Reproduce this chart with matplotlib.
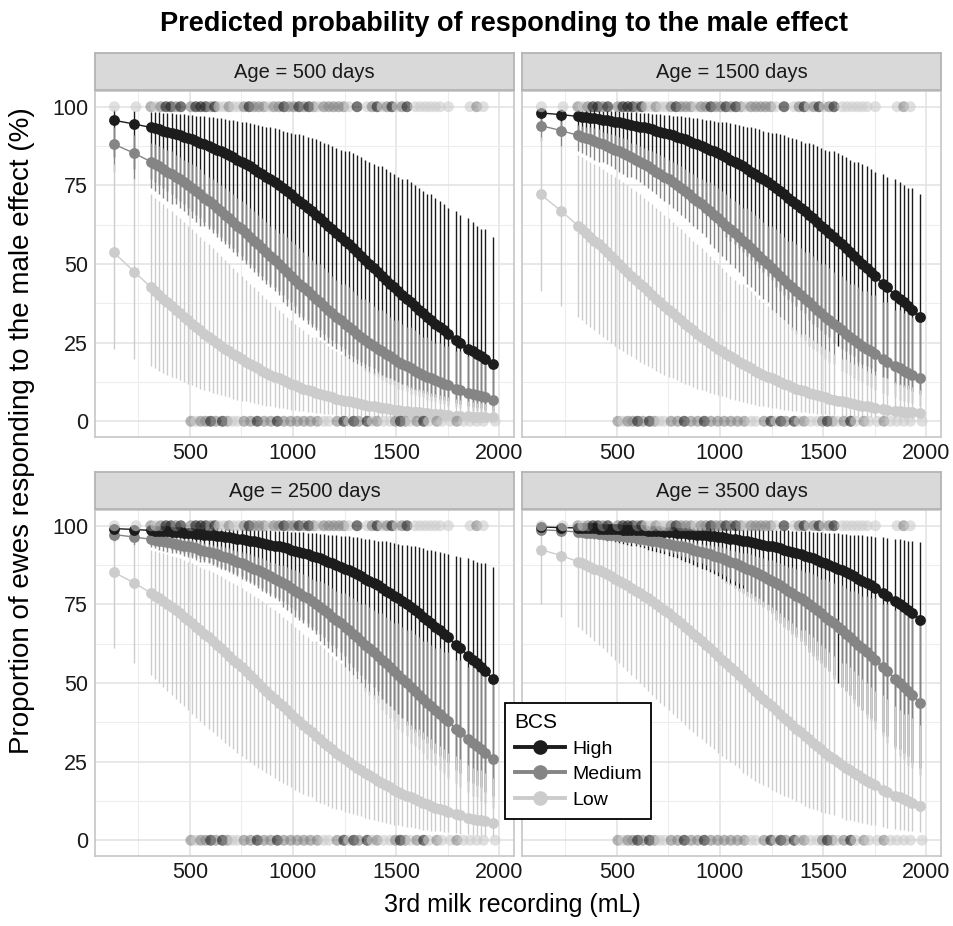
import matplotlib.pyplot as plt
import numpy as np
from matplotlib.lines import Line2D

plt.rcParams["font.family"] = ["Liberation Sans", "DejaVu Sans"]

# 3rd milk recording (mL) at which the model predictions are shown
milk = [131, 231,
        311, 331, 351, 371, 391, 411, 431, 451, 471, 491, 511, 531, 551, 571, 591, 611, 631, 651,
        671, 691, 711, 731, 751, 771, 791, 811, 831, 851, 871, 891, 911, 931, 951, 971, 991, 1011,
        1031, 1051, 1071, 1091, 1111, 1131, 1151, 1171, 1191, 1211, 1231, 1251, 1271, 1291, 1311,
        1331, 1351, 1371, 1391, 1411, 1431, 1451, 1471, 1491, 1511, 1531, 1551, 1571, 1591, 1611,
        1631, 1651, 1671, 1691, 1711, 1731, 1751,
        1791, 1811, 1851, 1871, 1891, 1911, 1931, 1971]

# predicted % responding (mean, lower, upper) -- Age = 500 days
p500_high = [95.7, 94.5, 93.4, 93.1, 92.8, 92.4, 92.1, 91.7, 91.3, 90.9, 90.5, 90.0, 89.6, 89.1, 88.6, 88.1, 87.5, 87.0, 86.4, 85.8, 85.2, 84.6, 83.9, 83.2, 82.5, 81.8, 81.0, 80.2, 79.4, 78.6, 77.7, 76.9, 76.0, 75.0, 74.1, 73.1, 72.1, 71.1, 70.1, 69.0, 67.9, 66.8, 65.7, 64.6, 63.4, 62.2, 61.1, 59.9, 58.7, 57.4, 56.2, 55.0, 53.7, 52.5, 51.2, 50.0, 48.8, 47.5, 46.3, 45.0, 43.8, 42.6, 41.3, 40.1, 38.9, 37.8, 36.6, 35.4, 34.3, 33.2, 32.1, 31.0, 29.9, 28.9, 27.9, 25.9, 25.0, 23.1, 22.3, 21.4, 20.6, 19.8, 18.2]
p500_high_lo = [83.9, 80.2, 76.9, 76.0, 75.0, 74.1, 73.1, 72.1, 71.1, 70.1, 69.0, 67.9, 66.8, 65.7, 64.6, 63.4, 62.2, 61.1, 59.9, 58.7, 57.4, 56.2, 55.0, 53.7, 52.5, 51.2, 50.0, 48.8, 47.5, 46.3, 45.0, 43.8, 42.6, 41.3, 40.1, 38.9, 37.8, 36.6, 34.3, 33.2, 32.1, 31.0, 29.9, 28.9, 27.9, 26.9, 25.9, 25.0, 24.0, 23.1, 21.4, 20.6, 19.8, 19.0, 18.2, 17.5, 16.8, 16.1, 14.8, 14.2, 13.6, 13.0, 12.5, 11.9, 10.9, 10.4, 10.0, 9.5, 9.1, 8.7, 7.9, 7.6, 7.2, 6.9, 6.6, 5.7, 5.5, 4.7, 4.5, 4.3, 4.1, 3.7, 3.4]
p500_high_hi = [99.0, 98.7, 98.4, 98.3, 98.2, 98.1, 98.0, 97.9, 97.8, 97.7, 97.6, 97.5, 97.3, 97.2, 97.1, 96.9, 96.8, 96.6, 96.4, 96.3, 96.1, 95.9, 95.7, 95.5, 95.3, 95.0, 94.8, 94.5, 94.3, 94.0, 93.7, 93.4, 93.1, 92.8, 92.4, 92.1, 91.7, 91.3, 91.3, 90.9, 90.5, 90.0, 89.6, 89.1, 88.6, 88.1, 87.5, 87.0, 86.4, 85.8, 85.8, 85.2, 84.6, 83.9, 83.2, 82.5, 81.8, 81.0, 81.0, 80.2, 79.4, 78.6, 77.7, 76.9, 76.9, 76.0, 75.0, 74.1, 73.1, 72.1, 72.1, 71.1, 70.1, 69.0, 67.9, 66.8, 65.7, 64.6, 63.4, 62.2, 61.1, 61.1, 58.7]
p500_medium = [88.1, 85.2, 82.5, 81.8, 81.0, 80.2, 79.4, 78.6, 77.7, 76.9, 76.0, 75.0, 74.1, 73.1, 72.1, 71.1, 70.1, 69.0, 67.9, 66.8, 65.7, 64.6, 63.4, 62.2, 61.1, 59.9, 58.7, 57.4, 56.2, 55.0, 53.7, 52.5, 51.2, 50.0, 48.8, 47.5, 46.3, 45.0, 43.8, 42.6, 41.3, 40.1, 38.9, 37.8, 36.6, 35.4, 34.3, 33.2, 32.1, 31.0, 29.9, 28.9, 27.9, 26.9, 25.9, 25.0, 24.0, 23.1, 22.3, 21.4, 20.6, 19.8, 19.0, 18.2, 17.5, 16.8, 16.1, 15.4, 14.8, 14.2, 13.6, 13.0, 12.5, 11.9, 11.4, 10.4, 10.0, 9.1, 8.7, 8.3, 7.9, 7.6, 6.9]
p500_medium_lo = [79.4, 76.9, 74.1, 73.1, 72.1, 71.1, 70.1, 69.0, 69.0, 67.9, 66.8, 65.7, 64.6, 63.4, 62.2, 62.2, 61.1, 59.9, 58.7, 57.4, 56.2, 55.0, 53.7, 52.5, 51.2, 50.0, 48.8, 47.5, 46.3, 45.0, 43.8, 42.6, 41.3, 40.1, 37.8, 36.6, 35.4, 34.3, 33.2, 32.1, 31.0, 29.9, 28.9, 26.9, 25.9, 25.0, 24.0, 23.1, 22.3, 20.6, 19.8, 19.0, 18.2, 17.5, 16.1, 15.4, 14.8, 14.2, 13.0, 12.5, 11.9, 11.4, 10.4, 10.0, 9.5, 8.7, 8.3, 7.9, 7.6, 6.9, 6.6, 6.3, 5.7, 5.5, 5.0, 4.5, 4.1, 3.7, 3.4, 3.2, 2.9, 2.8, 2.4]
p500_medium_hi = [93.4, 90.9, 88.6, 88.1, 87.5, 87.0, 86.4, 85.8, 84.6, 83.9, 83.2, 82.5, 81.8, 81.0, 80.2, 78.6, 77.7, 76.9, 76.0, 75.0, 74.1, 73.1, 72.1, 71.1, 70.1, 69.0, 67.9, 66.8, 65.7, 64.6, 63.4, 62.2, 61.1, 59.9, 59.9, 58.7, 57.4, 56.2, 55.0, 53.7, 52.5, 51.2, 50.0, 50.0, 48.8, 47.5, 46.3, 45.0, 43.8, 43.8, 42.6, 41.3, 40.1, 38.9, 38.9, 37.8, 36.6, 35.4, 35.4, 34.3, 33.2, 32.1, 32.1, 31.0, 29.9, 29.9, 28.9, 27.9, 26.9, 26.9, 25.9, 25.0, 25.0, 24.0, 24.0, 22.3, 22.3, 20.6, 20.6, 19.8, 19.8, 19.0, 18.2]
p500_low = [53.7, 47.5, 42.6, 41.3, 40.1, 38.9, 37.8, 36.6, 35.4, 34.3, 33.2, 32.1, 31.0, 29.9, 28.9, 27.9, 26.9, 25.9, 25.0, 24.0, 23.1, 22.3, 21.4, 20.6, 19.8, 19.0, 18.2, 17.5, 16.8, 16.1, 15.4, 14.8, 14.2, 13.6, 13.0, 12.5, 11.9, 11.4, 10.9, 10.4, 10.0, 9.5, 9.1, 8.7, 8.3, 7.9, 7.6, 7.2, 6.9, 6.6, 6.3, 6.0, 5.7, 5.5, 5.2, 5.0, 4.7, 4.5, 4.3, 4.1, 3.9, 3.7, 3.6, 3.4, 3.2, 3.1, 2.9, 2.8, 2.7, 2.5, 2.4, 2.3, 2.2, 2.1, 2.0, 1.8, 1.7, 1.6, 1.5, 1.4, 1.3, 1.3, 1.2]
p500_low_lo = [23.1, 19.8, 17.5, 16.8, 16.1, 15.4, 14.8, 14.2, 13.6, 13.0, 12.5, 11.9, 11.4, 10.9, 10.4, 10.0, 9.5, 9.1, 8.7, 8.3, 7.9, 7.6, 7.2, 6.9, 6.6, 6.3, 6.0, 5.7, 5.5, 5.2, 5.0, 4.7, 4.5, 4.3, 4.1, 3.9, 3.7, 3.6, 3.4, 3.2, 3.1, 2.9, 2.7, 2.5, 2.4, 2.3, 2.2, 2.1, 2.0, 1.9, 1.8, 1.7, 1.6, 1.6, 1.5, 1.4, 1.3, 1.2, 1.2, 1.1, 1.0, 1.0, 0.9, 0.9, 0.9, 0.8, 0.8, 0.7, 0.7, 0.6, 0.6, 0.6, 0.6, 0.5, 0.5, 0.4, 0.4, 0.4, 0.4, 0.3, 0.3, 0.3, 0.3]
p500_low_hi = [81.8, 76.9, 72.1, 71.1, 70.1, 69.0, 67.9, 66.8, 65.7, 64.6, 63.4, 62.2, 61.1, 59.9, 58.7, 57.4, 56.2, 55.0, 53.7, 52.5, 51.2, 50.0, 48.8, 47.5, 46.3, 45.0, 43.8, 42.6, 41.3, 40.1, 38.9, 37.8, 36.6, 35.4, 34.3, 33.2, 32.1, 31.0, 29.9, 28.9, 27.9, 26.9, 26.9, 25.9, 25.0, 24.0, 23.1, 22.3, 21.4, 20.6, 19.8, 19.0, 18.2, 17.5, 16.8, 16.1, 15.4, 15.4, 14.8, 14.2, 13.6, 13.0, 12.5, 11.9, 11.4, 10.9, 10.4, 10.4, 10.0, 9.5, 9.1, 8.7, 8.3, 7.9, 7.6, 7.2, 6.9, 6.3, 6.0, 5.7, 5.7, 5.5, 5.0]

# Age = 1500 days
p1500_high = [98.0, 97.5, 96.9, 96.8, 96.6, 96.4, 96.3, 96.1, 95.9, 95.7, 95.5, 95.3, 95.0, 94.8, 94.5, 94.3, 94.0, 93.7, 93.4, 93.1, 92.8, 92.4, 92.1, 91.7, 91.3, 90.9, 90.5, 90.0, 89.6, 89.1, 88.6, 88.1, 87.5, 87.0, 86.4, 85.8, 85.2, 84.6, 83.9, 83.2, 82.5, 81.8, 81.0, 80.2, 79.4, 78.6, 77.7, 76.9, 76.0, 75.0, 74.1, 73.1, 72.1, 71.1, 70.1, 69.0, 67.9, 66.8, 65.7, 64.6, 63.4, 62.2, 61.1, 59.9, 58.7, 57.4, 56.2, 55.0, 53.7, 52.5, 51.2, 50.0, 48.8, 47.5, 46.3, 43.8, 42.6, 40.1, 38.9, 37.8, 36.6, 35.4, 33.2]
p1500_high_lo = [93.4, 91.7, 90.0, 89.6, 89.1, 88.6, 88.1, 87.5, 87.0, 86.4, 85.8, 85.2, 84.6, 83.9, 83.2, 82.5, 81.8, 81.0, 80.2, 79.4, 78.6, 77.7, 76.9, 76.0, 75.0, 74.1, 73.1, 72.1, 71.1, 70.1, 69.0, 67.9, 66.8, 65.7, 64.6, 63.4, 62.2, 61.1, 58.7, 57.4, 56.2, 55.0, 53.7, 52.5, 51.2, 50.0, 48.8, 47.5, 46.3, 45.0, 42.6, 41.3, 40.1, 38.9, 37.8, 36.6, 35.4, 34.3, 32.1, 31.0, 29.9, 28.9, 27.9, 26.9, 25.0, 24.0, 23.1, 22.3, 21.4, 20.6, 19.0, 18.2, 17.5, 16.8, 16.1, 14.2, 13.6, 11.9, 11.4, 10.9, 10.4, 9.5, 8.7]
p1500_high_hi = [99.4, 99.3, 99.1, 99.1, 99.0, 99.0, 98.9, 98.8, 98.8, 98.7, 98.7, 98.6, 98.5, 98.4, 98.4, 98.3, 98.2, 98.1, 98.0, 97.9, 97.8, 97.7, 97.6, 97.5, 97.3, 97.2, 97.1, 96.9, 96.8, 96.6, 96.4, 96.3, 96.1, 95.9, 95.7, 95.5, 95.3, 95.0, 95.0, 94.8, 94.5, 94.3, 94.0, 93.7, 93.4, 93.1, 92.8, 92.4, 92.1, 91.7, 91.7, 91.3, 90.9, 90.5, 90.0, 89.6, 89.1, 88.6, 88.6, 88.1, 87.5, 87.0, 86.4, 85.8, 85.8, 85.2, 84.6, 83.9, 83.2, 82.5, 82.5, 81.8, 81.0, 80.2, 79.4, 78.6, 77.7, 76.9, 76.0, 75.0, 74.1, 74.1, 72.1]
p1500_medium = [94.0, 92.4, 90.9, 90.5, 90.0, 89.6, 89.1, 88.6, 88.1, 87.5, 87.0, 86.4, 85.8, 85.2, 84.6, 83.9, 83.2, 82.5, 81.8, 81.0, 80.2, 79.4, 78.6, 77.7, 76.9, 76.0, 75.0, 74.1, 73.1, 72.1, 71.1, 70.1, 69.0, 67.9, 66.8, 65.7, 64.6, 63.4, 62.2, 61.1, 59.9, 58.7, 57.4, 56.2, 55.0, 53.7, 52.5, 51.2, 50.0, 48.8, 47.5, 46.3, 45.0, 43.8, 42.6, 41.3, 40.1, 38.9, 37.8, 36.6, 35.4, 34.3, 33.2, 32.1, 31.0, 29.9, 28.9, 27.9, 26.9, 25.9, 25.0, 24.0, 23.1, 22.3, 21.4, 19.8, 19.0, 17.5, 16.8, 16.1, 15.4, 14.8, 13.6]
p1500_medium_lo = [89.1, 87.5, 85.8, 85.2, 84.6, 83.9, 83.2, 82.5, 82.5, 81.8, 81.0, 80.2, 79.4, 78.6, 77.7, 77.7, 76.9, 76.0, 75.0, 74.1, 73.1, 72.1, 71.1, 70.1, 69.0, 67.9, 66.8, 65.7, 64.6, 63.4, 62.2, 61.1, 59.9, 58.7, 56.2, 55.0, 53.7, 52.5, 51.2, 50.0, 48.8, 47.5, 46.3, 43.8, 42.6, 41.3, 40.1, 38.9, 37.8, 35.4, 34.3, 33.2, 32.1, 31.0, 28.9, 27.9, 26.9, 25.9, 24.0, 23.1, 22.3, 21.4, 19.8, 19.0, 18.2, 16.8, 16.1, 15.4, 14.8, 13.6, 13.0, 12.5, 11.4, 10.9, 10.0, 9.1, 8.3, 7.6, 6.9, 6.6, 6.0, 5.7, 5.0]
p1500_medium_hi = [96.8, 95.5, 94.3, 94.0, 93.7, 93.4, 93.1, 92.8, 92.1, 91.7, 91.3, 90.9, 90.5, 90.0, 89.6, 88.6, 88.1, 87.5, 87.0, 86.4, 85.8, 85.2, 84.6, 83.9, 83.2, 82.5, 81.8, 81.0, 80.2, 79.4, 78.6, 77.7, 76.9, 76.0, 76.0, 75.0, 74.1, 73.1, 72.1, 71.1, 70.1, 69.0, 67.9, 67.9, 66.8, 65.7, 64.6, 63.4, 62.2, 62.2, 61.1, 59.9, 58.7, 57.4, 57.4, 56.2, 55.0, 53.7, 53.7, 52.5, 51.2, 50.0, 50.0, 48.8, 47.5, 47.5, 46.3, 45.0, 43.8, 43.8, 42.6, 41.3, 41.3, 40.1, 40.1, 37.8, 37.8, 35.4, 35.4, 34.3, 34.3, 33.2, 32.1]
p1500_low = [72.1, 66.8, 62.2, 61.1, 59.9, 58.7, 57.4, 56.2, 55.0, 53.7, 52.5, 51.2, 50.0, 48.8, 47.5, 46.3, 45.0, 43.8, 42.6, 41.3, 40.1, 38.9, 37.8, 36.6, 35.4, 34.3, 33.2, 32.1, 31.0, 29.9, 28.9, 27.9, 26.9, 25.9, 25.0, 24.0, 23.1, 22.3, 21.4, 20.6, 19.8, 19.0, 18.2, 17.5, 16.8, 16.1, 15.4, 14.8, 14.2, 13.6, 13.0, 12.5, 11.9, 11.4, 10.9, 10.4, 10.0, 9.5, 9.1, 8.7, 8.3, 7.9, 7.6, 7.2, 6.9, 6.6, 6.3, 6.0, 5.7, 5.5, 5.2, 5.0, 4.7, 4.5, 4.3, 3.9, 3.7, 3.4, 3.2, 3.1, 2.9, 2.8, 2.5]
p1500_low_lo = [41.3, 36.6, 33.2, 32.1, 31.0, 29.9, 28.9, 27.9, 26.9, 25.9, 25.0, 24.0, 23.1, 22.3, 21.4, 20.6, 19.8, 19.0, 18.2, 17.5, 16.8, 16.1, 15.4, 14.8, 14.2, 13.6, 13.0, 12.5, 11.9, 11.4, 10.9, 10.4, 10.0, 9.5, 9.1, 8.7, 8.3, 7.9, 7.6, 7.2, 6.9, 6.6, 6.0, 5.7, 5.5, 5.2, 5.0, 4.7, 4.5, 4.3, 4.1, 3.9, 3.7, 3.6, 3.4, 3.2, 3.1, 2.8, 2.7, 2.5, 2.4, 2.3, 2.2, 2.1, 2.0, 1.9, 1.8, 1.6, 1.6, 1.5, 1.4, 1.3, 1.3, 1.2, 1.2, 1.0, 0.9, 0.9, 0.8, 0.8, 0.7, 0.7, 0.6]
p1500_low_hi = [90.5, 87.5, 84.6, 83.9, 83.2, 82.5, 81.8, 81.0, 80.2, 79.4, 78.6, 77.7, 76.9, 76.0, 75.0, 74.1, 73.1, 72.1, 71.1, 70.1, 69.0, 67.9, 66.8, 65.7, 64.6, 63.4, 62.2, 61.1, 59.9, 58.7, 57.4, 56.2, 55.0, 53.7, 52.5, 51.2, 50.0, 48.8, 47.5, 46.3, 45.0, 43.8, 43.8, 42.6, 41.3, 40.1, 38.9, 37.8, 36.6, 35.4, 34.3, 33.2, 32.1, 31.0, 29.9, 28.9, 27.9, 27.9, 26.9, 25.9, 25.0, 24.0, 23.1, 22.3, 21.4, 20.6, 19.8, 19.8, 19.0, 18.2, 17.5, 16.8, 16.1, 15.4, 14.8, 14.2, 13.6, 12.5, 11.9, 11.4, 11.4, 10.9, 10.0]

# Age = 2500 days
p2500_high = [99.1, 98.8, 98.5, 98.4, 98.4, 98.3, 98.2, 98.1, 98.0, 97.9, 97.8, 97.7, 97.6, 97.5, 97.3, 97.2, 97.1, 96.9, 96.8, 96.6, 96.4, 96.3, 96.1, 95.9, 95.7, 95.5, 95.3, 95.0, 94.8, 94.5, 94.3, 94.0, 93.7, 93.4, 93.1, 92.8, 92.4, 92.1, 91.7, 91.3, 90.9, 90.5, 90.0, 89.6, 89.1, 88.6, 88.1, 87.5, 87.0, 86.4, 85.8, 85.2, 84.6, 83.9, 83.2, 82.5, 81.8, 81.0, 80.2, 79.4, 78.6, 77.7, 76.9, 76.0, 75.0, 74.1, 73.1, 72.1, 71.1, 70.1, 69.0, 67.9, 66.8, 65.7, 64.6, 62.2, 61.1, 58.7, 57.4, 56.2, 55.0, 53.7, 51.2]
p2500_high_lo = [96.1, 95.0, 94.0, 93.7, 93.4, 93.1, 92.8, 92.4, 92.1, 91.7, 91.3, 90.9, 90.5, 90.0, 89.6, 89.1, 88.6, 88.1, 87.5, 87.0, 86.4, 85.8, 85.2, 84.6, 83.9, 83.2, 82.5, 81.8, 81.0, 80.2, 79.4, 78.6, 77.7, 76.9, 76.0, 75.0, 74.1, 73.1, 71.1, 70.1, 69.0, 67.9, 66.8, 65.7, 64.6, 63.4, 62.2, 61.1, 59.9, 58.7, 56.2, 55.0, 53.7, 52.5, 51.2, 50.0, 48.8, 47.5, 45.0, 43.8, 42.6, 41.3, 40.1, 38.9, 36.6, 35.4, 34.3, 33.2, 32.1, 31.0, 28.9, 27.9, 26.9, 25.9, 25.0, 22.3, 21.4, 19.0, 18.2, 17.5, 16.8, 15.4, 14.2]
p2500_high_hi = [99.8, 99.7, 99.6, 99.6, 99.6, 99.6, 99.6, 99.5, 99.5, 99.5, 99.5, 99.4, 99.4, 99.4, 99.4, 99.3, 99.3, 99.3, 99.2, 99.2, 99.1, 99.1, 99.1, 99.0, 99.0, 98.9, 98.8, 98.8, 98.7, 98.7, 98.6, 98.5, 98.4, 98.4, 98.3, 98.2, 98.1, 98.0, 98.0, 97.9, 97.8, 97.7, 97.6, 97.5, 97.3, 97.2, 97.1, 96.9, 96.8, 96.6, 96.6, 96.4, 96.3, 96.1, 95.9, 95.7, 95.5, 95.3, 95.3, 95.0, 94.8, 94.5, 94.3, 94.0, 94.0, 93.7, 93.4, 93.1, 92.8, 92.4, 92.4, 92.1, 91.7, 91.3, 90.9, 90.5, 90.0, 89.6, 89.1, 88.6, 88.1, 88.1, 87.0]
p2500_medium = [97.2, 96.4, 95.7, 95.5, 95.3, 95.0, 94.8, 94.5, 94.3, 94.0, 93.7, 93.4, 93.1, 92.8, 92.4, 92.1, 91.7, 91.3, 90.9, 90.5, 90.0, 89.6, 89.1, 88.6, 88.1, 87.5, 87.0, 86.4, 85.8, 85.2, 84.6, 83.9, 83.2, 82.5, 81.8, 81.0, 80.2, 79.4, 78.6, 77.7, 76.9, 76.0, 75.0, 74.1, 73.1, 72.1, 71.1, 70.1, 69.0, 67.9, 66.8, 65.7, 64.6, 63.4, 62.2, 61.1, 59.9, 58.7, 57.4, 56.2, 55.0, 53.7, 52.5, 51.2, 50.0, 48.8, 47.5, 46.3, 45.0, 43.8, 42.6, 41.3, 40.1, 38.9, 37.8, 35.4, 34.3, 32.1, 31.0, 29.9, 28.9, 27.9, 25.9]
p2500_medium_lo = [94.8, 94.0, 93.1, 92.8, 92.4, 92.1, 91.7, 91.3, 91.3, 90.9, 90.5, 90.0, 89.6, 89.1, 88.6, 88.6, 88.1, 87.5, 87.0, 86.4, 85.8, 85.2, 84.6, 83.9, 83.2, 82.5, 81.8, 81.0, 80.2, 79.4, 78.6, 77.7, 76.9, 76.0, 74.1, 73.1, 72.1, 71.1, 70.1, 69.0, 67.9, 66.8, 65.7, 63.4, 62.2, 61.1, 59.9, 58.7, 57.4, 55.0, 53.7, 52.5, 51.2, 50.0, 47.5, 46.3, 45.0, 43.8, 41.3, 40.1, 38.9, 37.8, 35.4, 34.3, 33.2, 31.0, 29.9, 28.9, 27.9, 25.9, 25.0, 24.0, 22.3, 21.4, 19.8, 18.2, 16.8, 15.4, 14.2, 13.6, 12.5, 11.9, 10.4]
p2500_medium_hi = [98.5, 97.9, 97.3, 97.2, 97.1, 96.9, 96.8, 96.6, 96.3, 96.1, 95.9, 95.7, 95.5, 95.3, 95.0, 94.5, 94.3, 94.0, 93.7, 93.4, 93.1, 92.8, 92.4, 92.1, 91.7, 91.3, 90.9, 90.5, 90.0, 89.6, 89.1, 88.6, 88.1, 87.5, 87.5, 87.0, 86.4, 85.8, 85.2, 84.6, 83.9, 83.2, 82.5, 82.5, 81.8, 81.0, 80.2, 79.4, 78.6, 78.6, 77.7, 76.9, 76.0, 75.0, 75.0, 74.1, 73.1, 72.1, 72.1, 71.1, 70.1, 69.0, 69.0, 67.9, 66.8, 66.8, 65.7, 64.6, 63.4, 63.4, 62.2, 61.1, 61.1, 59.9, 59.9, 57.4, 57.4, 55.0, 55.0, 53.7, 53.7, 52.5, 51.2]
p2500_low = [85.2, 81.8, 78.6, 77.7, 76.9, 76.0, 75.0, 74.1, 73.1, 72.1, 71.1, 70.1, 69.0, 67.9, 66.8, 65.7, 64.6, 63.4, 62.2, 61.1, 59.9, 58.7, 57.4, 56.2, 55.0, 53.7, 52.5, 51.2, 50.0, 48.8, 47.5, 46.3, 45.0, 43.8, 42.6, 41.3, 40.1, 38.9, 37.8, 36.6, 35.4, 34.3, 33.2, 32.1, 31.0, 29.9, 28.9, 27.9, 26.9, 25.9, 25.0, 24.0, 23.1, 22.3, 21.4, 20.6, 19.8, 19.0, 18.2, 17.5, 16.8, 16.1, 15.4, 14.8, 14.2, 13.6, 13.0, 12.5, 11.9, 11.4, 10.9, 10.4, 10.0, 9.5, 9.1, 8.3, 7.9, 7.2, 6.9, 6.6, 6.3, 6.0, 5.5]
p2500_low_lo = [61.1, 56.2, 52.5, 51.2, 50.0, 48.8, 47.5, 46.3, 45.0, 43.8, 42.6, 41.3, 40.1, 38.9, 37.8, 36.6, 35.4, 34.3, 33.2, 32.1, 31.0, 29.9, 28.9, 27.9, 26.9, 25.9, 25.0, 24.0, 23.1, 22.3, 21.4, 20.6, 19.8, 19.0, 18.2, 17.5, 16.8, 16.1, 15.4, 14.8, 14.2, 13.6, 12.5, 11.9, 11.4, 10.9, 10.4, 10.0, 9.5, 9.1, 8.7, 8.3, 7.9, 7.6, 7.2, 6.9, 6.6, 6.0, 5.7, 5.5, 5.2, 5.0, 4.7, 4.5, 4.3, 4.1, 3.9, 3.6, 3.4, 3.2, 3.1, 2.9, 2.8, 2.7, 2.5, 2.2, 2.1, 1.9, 1.8, 1.7, 1.6, 1.5, 1.3]
p2500_low_hi = [95.5, 94.0, 92.4, 92.1, 91.7, 91.3, 90.9, 90.5, 90.0, 89.6, 89.1, 88.6, 88.1, 87.5, 87.0, 86.4, 85.8, 85.2, 84.6, 83.9, 83.2, 82.5, 81.8, 81.0, 80.2, 79.4, 78.6, 77.7, 76.9, 76.0, 75.0, 74.1, 73.1, 72.1, 71.1, 70.1, 69.0, 67.9, 66.8, 65.7, 64.6, 63.4, 63.4, 62.2, 61.1, 59.9, 58.7, 57.4, 56.2, 55.0, 53.7, 52.5, 51.2, 50.0, 48.8, 47.5, 46.3, 46.3, 45.0, 43.8, 42.6, 41.3, 40.1, 38.9, 37.8, 36.6, 35.4, 35.4, 34.3, 33.2, 32.1, 31.0, 29.9, 28.9, 27.9, 26.9, 25.9, 24.0, 23.1, 22.3, 22.3, 21.4, 19.8]

# Age = 3500 days
p3500_high = [99.6, 99.4, 99.3, 99.3, 99.3, 99.2, 99.2, 99.1, 99.1, 99.1, 99.0, 99.0, 98.9, 98.8, 98.8, 98.7, 98.7, 98.6, 98.5, 98.4, 98.4, 98.3, 98.2, 98.1, 98.0, 97.9, 97.8, 97.7, 97.6, 97.5, 97.3, 97.2, 97.1, 96.9, 96.8, 96.6, 96.4, 96.3, 96.1, 95.9, 95.7, 95.5, 95.3, 95.0, 94.8, 94.5, 94.3, 94.0, 93.7, 93.4, 93.1, 92.8, 92.4, 92.1, 91.7, 91.3, 90.9, 90.5, 90.0, 89.6, 89.1, 88.6, 88.1, 87.5, 87.0, 86.4, 85.8, 85.2, 84.6, 83.9, 83.2, 82.5, 81.8, 81.0, 80.2, 78.6, 77.7, 76.0, 75.0, 74.1, 73.1, 72.1, 70.1]
p3500_high_lo = [97.8, 97.2, 96.6, 96.4, 96.3, 96.1, 95.9, 95.7, 95.5, 95.3, 95.0, 94.8, 94.5, 94.3, 94.0, 93.7, 93.4, 93.1, 92.8, 92.4, 92.1, 91.7, 91.3, 90.9, 90.5, 90.0, 89.6, 89.1, 88.6, 88.1, 87.5, 87.0, 86.4, 85.8, 85.2, 84.6, 83.9, 83.2, 81.8, 81.0, 80.2, 79.4, 78.6, 77.7, 76.9, 76.0, 75.0, 74.1, 73.1, 72.1, 70.1, 69.0, 67.9, 66.8, 65.7, 64.6, 63.4, 62.2, 59.9, 58.7, 57.4, 56.2, 55.0, 53.7, 51.2, 50.0, 48.8, 47.5, 46.3, 45.0, 42.6, 41.3, 40.1, 38.9, 37.8, 34.3, 33.2, 29.9, 28.9, 27.9, 26.9, 25.0, 23.1]
p3500_high_hi = [99.9, 99.9, 99.9, 99.9, 99.9, 99.9, 99.8, 99.8, 99.8, 99.8, 99.8, 99.8, 99.8, 99.8, 99.8, 99.8, 99.7, 99.7, 99.7, 99.7, 99.7, 99.7, 99.6, 99.6, 99.6, 99.6, 99.6, 99.5, 99.5, 99.5, 99.5, 99.4, 99.4, 99.4, 99.4, 99.3, 99.3, 99.3, 99.3, 99.2, 99.2, 99.1, 99.1, 99.1, 99.0, 99.0, 98.9, 98.8, 98.8, 98.7, 98.7, 98.7, 98.6, 98.5, 98.4, 98.4, 98.3, 98.2, 98.2, 98.1, 98.0, 97.9, 97.8, 97.7, 97.7, 97.6, 97.5, 97.3, 97.2, 97.1, 97.1, 96.9, 96.8, 96.6, 96.4, 96.3, 96.1, 95.9, 95.7, 95.5, 95.3, 95.3, 94.8]
p3500_medium = [98.7, 98.4, 98.0, 97.9, 97.8, 97.7, 97.6, 97.5, 97.3, 97.2, 97.1, 96.9, 96.8, 96.6, 96.4, 96.3, 96.1, 95.9, 95.7, 95.5, 95.3, 95.0, 94.8, 94.5, 94.3, 94.0, 93.7, 93.4, 93.1, 92.8, 92.4, 92.1, 91.7, 91.3, 90.9, 90.5, 90.0, 89.6, 89.1, 88.6, 88.1, 87.5, 87.0, 86.4, 85.8, 85.2, 84.6, 83.9, 83.2, 82.5, 81.8, 81.0, 80.2, 79.4, 78.6, 77.7, 76.9, 76.0, 75.0, 74.1, 73.1, 72.1, 71.1, 70.1, 69.0, 67.9, 66.8, 65.7, 64.6, 63.4, 62.2, 61.1, 59.9, 58.7, 57.4, 55.0, 53.7, 51.2, 50.0, 48.8, 47.5, 46.3, 43.8]
p3500_medium_lo = [97.6, 97.2, 96.8, 96.6, 96.4, 96.3, 96.1, 95.9, 95.9, 95.7, 95.5, 95.3, 95.0, 94.8, 94.5, 94.5, 94.3, 94.0, 93.7, 93.4, 93.1, 92.8, 92.4, 92.1, 91.7, 91.3, 90.9, 90.5, 90.0, 89.6, 89.1, 88.6, 88.1, 87.5, 86.4, 85.8, 85.2, 84.6, 83.9, 83.2, 82.5, 81.8, 81.0, 79.4, 78.6, 77.7, 76.9, 76.0, 75.0, 73.1, 72.1, 71.1, 70.1, 69.0, 66.8, 65.7, 64.6, 63.4, 61.1, 59.9, 58.7, 57.4, 55.0, 53.7, 52.5, 50.0, 48.8, 47.5, 46.3, 43.8, 42.6, 41.3, 38.9, 37.8, 35.4, 33.2, 31.0, 28.9, 26.9, 25.9, 24.0, 23.1, 20.6]
p3500_medium_hi = [99.3, 99.1, 98.8, 98.7, 98.7, 98.6, 98.5, 98.4, 98.3, 98.2, 98.1, 98.0, 97.9, 97.8, 97.7, 97.5, 97.3, 97.2, 97.1, 96.9, 96.8, 96.6, 96.4, 96.3, 96.1, 95.9, 95.7, 95.5, 95.3, 95.0, 94.8, 94.5, 94.3, 94.0, 94.0, 93.7, 93.4, 93.1, 92.8, 92.4, 92.1, 91.7, 91.3, 91.3, 90.9, 90.5, 90.0, 89.6, 89.1, 89.1, 88.6, 88.1, 87.5, 87.0, 87.0, 86.4, 85.8, 85.2, 85.2, 84.6, 83.9, 83.2, 83.2, 82.5, 81.8, 81.8, 81.0, 80.2, 79.4, 79.4, 78.6, 77.7, 77.7, 76.9, 76.9, 75.0, 75.0, 73.1, 73.1, 72.1, 72.1, 71.1, 70.1]
p3500_low = [92.4, 90.5, 88.6, 88.1, 87.5, 87.0, 86.4, 85.8, 85.2, 84.6, 83.9, 83.2, 82.5, 81.8, 81.0, 80.2, 79.4, 78.6, 77.7, 76.9, 76.0, 75.0, 74.1, 73.1, 72.1, 71.1, 70.1, 69.0, 67.9, 66.8, 65.7, 64.6, 63.4, 62.2, 61.1, 59.9, 58.7, 57.4, 56.2, 55.0, 53.7, 52.5, 51.2, 50.0, 48.8, 47.5, 46.3, 45.0, 43.8, 42.6, 41.3, 40.1, 38.9, 37.8, 36.6, 35.4, 34.3, 33.2, 32.1, 31.0, 29.9, 28.9, 27.9, 26.9, 25.9, 25.0, 24.0, 23.1, 22.3, 21.4, 20.6, 19.8, 19.0, 18.2, 17.5, 16.1, 15.4, 14.2, 13.6, 13.0, 12.5, 11.9, 10.9]
p3500_low_lo = [75.0, 71.1, 67.9, 66.8, 65.7, 64.6, 63.4, 62.2, 61.1, 59.9, 58.7, 57.4, 56.2, 55.0, 53.7, 52.5, 51.2, 50.0, 48.8, 47.5, 46.3, 45.0, 43.8, 42.6, 41.3, 40.1, 38.9, 37.8, 36.6, 35.4, 34.3, 33.2, 32.1, 31.0, 29.9, 28.9, 27.9, 26.9, 25.9, 25.0, 24.0, 23.1, 21.4, 20.6, 19.8, 19.0, 18.2, 17.5, 16.8, 16.1, 15.4, 14.8, 14.2, 13.6, 13.0, 12.5, 11.9, 10.9, 10.4, 10.0, 9.5, 9.1, 8.7, 8.3, 7.9, 7.6, 7.2, 6.6, 6.3, 6.0, 5.7, 5.5, 5.2, 5.0, 4.7, 4.1, 3.9, 3.6, 3.4, 3.2, 2.9, 2.8, 2.5]
p3500_low_hi = [98.0, 97.3, 96.6, 96.4, 96.3, 96.1, 95.9, 95.7, 95.5, 95.3, 95.0, 94.8, 94.5, 94.3, 94.0, 93.7, 93.4, 93.1, 92.8, 92.4, 92.1, 91.7, 91.3, 90.9, 90.5, 90.0, 89.6, 89.1, 88.6, 88.1, 87.5, 87.0, 86.4, 85.8, 85.2, 84.6, 83.9, 83.2, 82.5, 81.8, 81.0, 80.2, 80.2, 79.4, 78.6, 77.7, 76.9, 76.0, 75.0, 74.1, 73.1, 72.1, 71.1, 70.1, 69.0, 67.9, 66.8, 66.8, 65.7, 64.6, 63.4, 62.2, 61.1, 59.9, 58.7, 57.4, 56.2, 56.2, 55.0, 53.7, 52.5, 51.2, 50.0, 48.8, 47.5, 46.3, 45.0, 42.6, 41.3, 40.1, 40.1, 38.9, 36.6]

# only a High-BCS prediction exists at this milk value in these panels
solo_high = {1500: 1571, 3500: 1571}

# observed ewes: responders (100 %) and non-responders (0 %), with their BCS
resp_x = [134, 239, 311, 335, 359, 384, 408, 432, 456, 505, 529, 553, 577, 601, 621, 641,
          666, 690, 714, 738, 763, 787, 811, 835, 859, 883, 908, 932, 956, 980, 1004, 1029,
          1053, 1077, 1101, 1125, 1150, 1174, 1198, 1222, 1246, 1270, 1311, 1359, 1384, 1408,
          1432, 1456, 1480, 1505, 1529, 1553, 1593, 1617, 1642, 1666, 1690, 1714, 1754, 1859,
          1891, 1923]
resp_bcs = list("LLMLMHHMHM" "HHHMHLLMLL" "MHMMMLMMHM" "MHMHMLMMMM" "MLHLMHLMHL" "MHLLLLLLLLML")
nonresp_x = [505, 529, 553, 577, 601, 626, 658, 682, 706, 730, 763, 795, 827, 860, 892, 924,
             956, 989, 1021, 1053, 1085, 1118, 1150, 1174, 1214, 1247, 1271, 1295, 1319, 1360,
             1384, 1408, 1440, 1472, 1497, 1521, 1545, 1569, 1601, 1634, 1658, 1698, 1722, 1763,
             1795, 1827, 1859, 1892, 1924, 1980]
nonresp_bcs = list("MLMMHMHMLL" "MMHMMHMMMM" "MMLLMHLHMH" "LMLLMHMLMH" "LMLLMLLLLL")

ages = [500, 1500, 2500, 3500]
levels = ["High", "Medium", "Low"]
colors = {"High": "#1c1c1c", "Medium": "#858585", "Low": "#cccccc"}
code = {"H": "High", "M": "Medium", "L": "Low"}

pred = {}
for age in ages:
    pred[age] = {}
    for lev in levels:
        key = f"p{age}_{lev.lower()}"
        trio = [globals()[key], globals()[key + "_lo"], globals()[key + "_hi"]]
        for arr, suffix in zip(trio, ["", "_lo", "_hi"]):
            if len(arr) != len(milk):
                raise ValueError(f"{key}{suffix} has {len(arr)} values, expected {len(milk)}")
        pred[age][lev] = [np.array(a) for a in trio]

W, H = 954, 926
fig = plt.figure(figsize=(W / 100, H / 100), dpi=100)


def box(x0, y0, x1, y1):
    return [x0 / W, 1 - y1 / H, (x1 - x0) / W, (y1 - y0) / H]


corner = {500: (95, 91), 1500: (522, 91), 2500: (95, 510), 3500: (522, 510)}
pw, ph, sh = 419, 346, 37
x = np.array(milk)

for age in ages:
    x0, y0 = corner[age]
    ax = fig.add_axes(box(x0, y0, x0 + pw, y0 + ph))
    st = fig.add_axes(box(x0, y0 - sh - 1, x0 + pw, y0 - 1))

    # facet strip
    st.set_facecolor("#d9d9d9")
    st.set_xticks([]); st.set_yticks([])
    for sp in st.spines.values():
        sp.set_color("#b4b4b4"); sp.set_linewidth(1.3)
    st.text(0.5, 0.48, f"Age = {age} days", ha="center", va="center",
            fontsize=14.5, color="#1a1a1a", transform=st.transAxes)

    # error bars, High first so Low sits on top
    for lev in levels:
        mean, lo, hi = pred[age][lev]
        keep = np.ones(len(x), bool)
        if age in solo_high and lev != "High":
            keep &= x != solo_high[age]
        ax.vlines(x[keep], lo[keep], hi[keep], color=colors[lev], lw=1.0, zorder=2)

    # connecting lines and points
    for lev in ["Low", "Medium", "High"]:
        mean = pred[age][lev][0]
        ax.plot(x, mean, color=colors[lev], lw=1.0, marker="o", ms=7.8,
                mec=colors[lev], mew=0, zorder=3)

    # raw observations
    for xs, bcs, yv in [(resp_x, resp_bcs, 100), (nonresp_x, nonresp_bcs, 0)]:
        ax.scatter(xs, [yv] * len(xs), s=62, c=[colors[code[b]] for b in bcs],
                   alpha=0.6, linewidths=0, zorder=4)

    ax.set_xlim(40, 2072)
    ax.set_ylim(-5, 105)
    ax.set_xticks([500, 1000, 1500, 2000])
    ax.set_xticks([250, 750, 1250, 1750], minor=True)
    ax.set_yticks([0, 25, 50, 75, 100])
    ax.set_yticks([12.5, 37.5, 62.5, 87.5], minor=True)
    ax.grid(True, which="major", color="#e2e2e2", lw=1.1)
    ax.grid(True, which="minor", color="#ededed", lw=0.8)
    ax.set_axisbelow(True)
    ax.tick_params(which="both", length=0, labelsize=15.5, labelcolor="#1a1a1a")
    ax.tick_params(axis="x", pad=4)
    ax.tick_params(axis="y", pad=5)
    if age in (1500, 3500):
        ax.set_yticklabels([])
    for sp in ax.spines.values():
        sp.set_color("#c6c6c6"); sp.set_linewidth(1.2)

fig.text(504 / W, 1 - 24 / H, "Predicted probability of responding to the male effect",
         ha="center", va="center", fontsize=19.5, fontweight="bold")
fig.text(512 / W, 1 - 905 / H, "3rd milk recording (mL)", ha="center", va="center",
         fontsize=18)
fig.text(22 / W, 1 - 431 / H, "Proportion of ewes responding to the male effect (%)",
         ha="center", va="center", rotation=90, fontsize=20)

handles = [Line2D([], [], color=colors[lev], lw=2.8, marker="o", ms=9.5) for lev in levels]
leg = fig.legend(handles, levels, title="BCS", loc="upper left",
                 bbox_to_anchor=(505 / W, 1 - 703 / H), frameon=True, fancybox=False,
                 edgecolor="black", framealpha=1, fontsize=14, title_fontsize=15,
                 handlelength=2.6, handletextpad=0.35, borderpad=0.5, labelspacing=0.42,
                 borderaxespad=0, alignment="left")
leg.get_frame().set_linewidth(1.3)

fig.savefig("out.png", dpi=100)
